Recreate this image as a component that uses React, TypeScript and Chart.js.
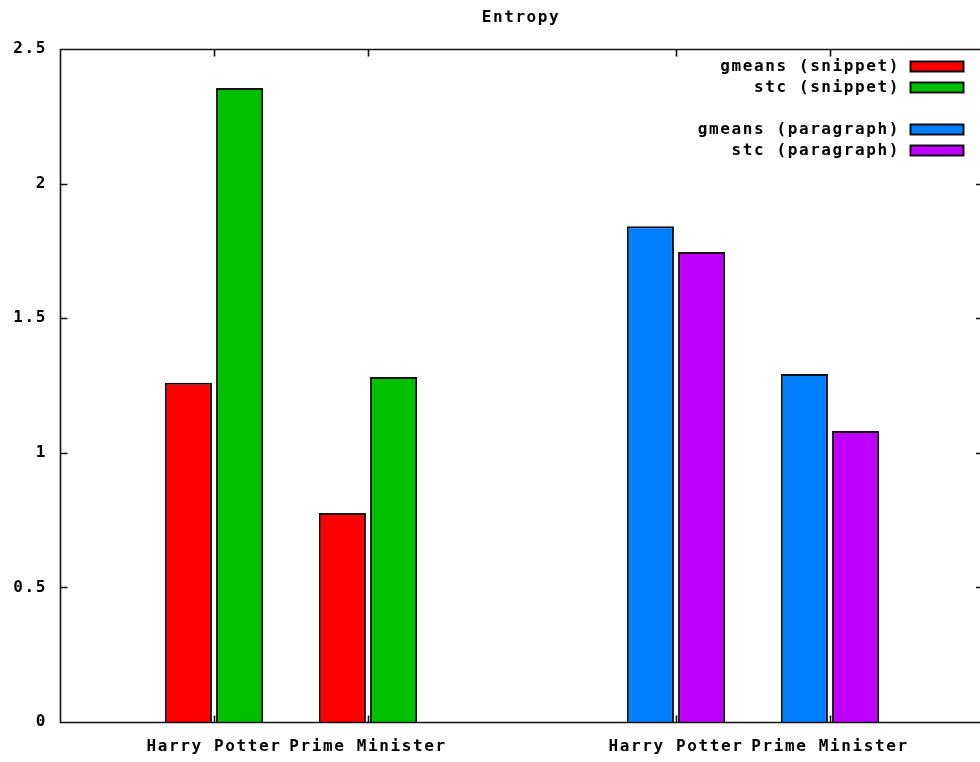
import { useEffect, useRef } from 'react';
import { Chart, registerables } from 'chart.js';

Chart.register(...registerables);

// ---- data -------------------------------------------------------------
const TITLE = 'Entropy';
const CATEGORY_LABELS = ['', 'Harry Potter', 'Prime Minister', '', 'Harry Potter', 'Prime Minister', ''];
const SNIPPET_SLOTS = [1, 2];
const PARAGRAPH_SLOTS = [4, 5];

const SERIES_NAMES = ['gmeans (snippet)', 'stc (snippet)', 'gmeans (paragraph)', 'stc (paragraph)'];
const SERIES_COLORS = ['#ff0000', '#00c000', '#0080ff', '#c000ff'];

const GMEANS_SNIPPET = [1.26, 0.776];
const STC_SNIPPET = [2.355, 1.282];
const GMEANS_PARAGRAPH = [1.842, 1.293];
const STC_PARAGRAPH = [1.746, 1.081];

const Y_MIN = 0;
const Y_MAX = 2.5;
const Y_STEP = 0.5;

// legend rows: dataset index, or null for an empty spacer row
const LEGEND_ROWS: (number | null)[] = [0, 1, null, 2, 3];

// ---- styling ----------------------------------------------------------
const FONT_FAMILY = '"DejaVu Sans Mono", "Liberation Mono", monospace';
const FONT_SIZE = 16;
const LETTER_SPACING = '1.6px';
const INK = '#111111';
const TICK_LEN = 7;

function placeAt(slots: number[], values: number[]): (number | null)[] {
  const row: (number | null)[] = CATEGORY_LABELS.map(() => null);
  slots.forEach((slot, i) => {
    row[slot] = values[i];
  });
  return row;
}

const SERIES_DATA = [
  placeAt(SNIPPET_SLOTS, GMEANS_SNIPPET),
  placeAt(SNIPPET_SLOTS, STC_SNIPPET),
  placeAt(PARAGRAPH_SLOTS, GMEANS_PARAGRAPH),
  placeAt(PARAGRAPH_SLOTS, STC_PARAGRAPH),
];

const fontCss = `bold ${FONT_SIZE}px ${FONT_FAMILY}`;

// monospaced text with wide letter spacing everywhere on the canvas
const spacingPlugin = {
  id: 'letterSpacing',
  beforeLayout(chart: any) {
    chart.ctx.letterSpacing = LETTER_SPACING;
  },
  beforeDraw(chart: any) {
    chart.ctx.letterSpacing = LETTER_SPACING;
  },
};

// plot border with inward tick marks
const framePlugin = {
  id: 'frame',
  afterDatasetsDraw(chart: any) {
    const { ctx, chartArea: a, scales } = chart;
    const left = Math.round(a.left) + 0.5;
    const top = Math.round(a.top) + 0.5;
    const bottom = Math.round(a.bottom) + 0.5;
    const right = a.right - 1;
    ctx.save();
    ctx.strokeStyle = INK;
    ctx.lineWidth = 1.6;
    ctx.beginPath();
    ctx.moveTo(a.right, top);
    ctx.lineTo(left, top);
    ctx.lineTo(left, bottom);
    ctx.lineTo(a.right, bottom);

    const yScale = scales.y;
    for (let v = Y_MIN; v <= Y_MAX + 1e-9; v += Y_STEP) {
      const y = Math.round(yScale.getPixelForValue(v)) + 0.5;
      ctx.moveTo(left, y);
      ctx.lineTo(left + TICK_LEN, y);
      ctx.moveTo(right, y);
      ctx.lineTo(right - TICK_LEN, y);
    }
    const xScale = scales.x;
    CATEGORY_LABELS.forEach((label, i) => {
      if (!label) return;
      const x = Math.round(xScale.getPixelForValue(i)) + 0.5;
      ctx.moveTo(x, bottom);
      ctx.lineTo(x, bottom - TICK_LEN);
      ctx.moveTo(x, top);
      ctx.lineTo(x, top + TICK_LEN);
    });
    ctx.stroke();
    ctx.restore();
  },
};

// title centred over the plot, and the key in the top-right corner
const annotatePlugin = {
  id: 'annotate',
  afterDraw(chart: any) {
    const { ctx, chartArea: a } = chart;
    ctx.save();
    ctx.letterSpacing = LETTER_SPACING;
    ctx.font = fontCss;
    ctx.fillStyle = '#000';
    ctx.textBaseline = 'middle';

    ctx.textAlign = 'center';
    ctx.fillText(TITLE, 521, 18);

    const boxRight = a.right - 21;
    const boxW = 53;
    const boxH = 10;
    const rowH = 21;
    const firstY = a.top + 16.5;
    ctx.textAlign = 'right';
    LEGEND_ROWS.forEach((dsIndex, row) => {
      if (dsIndex === null) return;
      const ds = chart.data.datasets[dsIndex];
      const cy = firstY + row * rowH;
      ctx.fillStyle = '#000';
      ctx.fillText(ds.label, boxRight - boxW - 10, cy + 1);
      const bx = Math.round(boxRight - boxW) + 0.5;
      const by = Math.round(cy - boxH / 2) + 0.5;
      ctx.fillStyle = ds.backgroundColor;
      ctx.fillRect(bx, by, boxW, boxH);
      ctx.strokeStyle = INK;
      ctx.lineWidth = 2;
      ctx.strokeRect(bx, by, boxW, boxH);
    });
    ctx.restore();
  },
};

export default function App() {
  const canvasRef = useRef<HTMLCanvasElement | null>(null);

  useEffect(() => {
    const canvas = canvasRef.current;
    if (!canvas) return;

    const chart = new Chart(canvas, {
      type: 'bar',
      data: {
        labels: CATEGORY_LABELS,
        datasets: SERIES_NAMES.map((name, i) => ({
          label: name,
          data: SERIES_DATA[i],
          backgroundColor: SERIES_COLORS[i],
          borderColor: INK,
          borderWidth: 2,
          skipNull: true,
          barPercentage: 0.92,
          categoryPercentage: 0.665,
        })),
      },
      options: {
        responsive: false,
        animation: false,
        events: [],
        layout: { padding: { top: 49, left: 0, right: 0, bottom: 0 } },
        plugins: {
          legend: { display: false },
          title: { display: false },
          tooltip: { enabled: false },
        },
        scales: {
          x: {
            type: 'category',
            offset: false,
            grid: { display: false, drawTicks: false },
            border: { display: false },
            ticks: {
              autoSkip: false,
              maxRotation: 0,
              minRotation: 0,
              padding: 15,
              color: '#000',
              font: { family: FONT_FAMILY, size: FONT_SIZE, weight: 'bold' },
            },
            afterFit(scale: any) {
              scale.height = 40;
              scale.paddingLeft = 0;
              scale.paddingRight = 0;
            },
          },
          y: {
            min: Y_MIN,
            max: Y_MAX,
            grid: { display: false, drawTicks: false },
            border: { display: false },
            ticks: {
              stepSize: Y_STEP,
              padding: 13,
              color: '#000',
              font: { family: FONT_FAMILY, size: FONT_SIZE, weight: 'bold' },
              callback: (value: any) => String(Number(value)),
            },
            afterFit(scale: any) {
              scale.width = 60;
            },
          },
        },
      },
      plugins: [spacingPlugin, framePlugin, annotatePlugin],
    } as any);

    return () => chart.destroy();
  }, []);

  // the plot frame runs a few pixels past the visible right edge
  return (
    <div
      style={{
        position: 'absolute',
        left: 0,
        top: 0,
        width: 980,
        height: 762,
        overflow: 'hidden',
        background: '#fff',
      }}
    >
      <canvas ref={canvasRef} width={984} height={762} style={{ display: 'block' }} />
    </div>
  );
}
